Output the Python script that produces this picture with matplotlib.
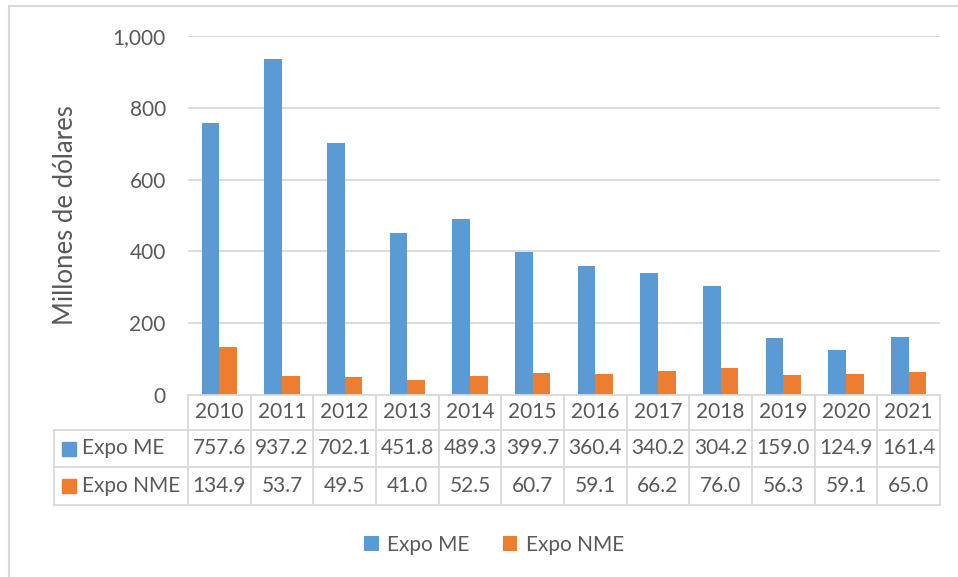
import numpy as np
import matplotlib
matplotlib.use('Agg')
from matplotlib import pyplot as plt
from matplotlib.lines import Line2D
from matplotlib.patches import Rectangle

## data ##
years = ['2010', '2011', '2012', '2013', '2014', '2015',
         '2016', '2017', '2018', '2019', '2020', '2021']
expo_me = [757.6, 937.2, 702.1, 451.8, 489.3, 399.7, 360.4, 340.2, 304.2, 159.0, 124.9, 161.4]
expo_nme = [134.9, 53.7, 49.5, 41.0, 52.5, 60.7, 59.1, 66.2, 76.0, 56.3, 59.1, 65.0]
series_names = ['Expo ME', 'Expo NME']
yticks = [0, 200, 400, 600, 800, 1000]

## style ##
blue = '#5b9bd5'
orange = '#ed7d31'
txt = '#595959'
grid = '#d9d9d9'
plt.rcParams['font.family'] = ['Lato', 'DejaVu Sans']
fs = 15

W, H = 958, 577
fig = plt.figure(figsize=(W/100, H/100), dpi=100)

def fx(px):
    return px / W
def fy(py):
    return 1 - py / H

# plot area in pixels
x0, x1 = 188, 940
y_top, y_bot = 36, 395
ax = fig.add_axes([fx(x0), fy(y_bot), fx(x1) - fx(x0), fy(y_top) - fy(y_bot)])

n = len(years)
xs = np.arange(n)
bw = 0.28
b1 = ax.bar(xs - bw/2, expo_me, bw, color=blue, zorder=3)
b2 = ax.bar(xs + bw/2, expo_nme, bw, color=orange, zorder=3)

ax.set_xlim(-0.5, n - 0.5)
ax.set_ylim(0, 1000)
ax.set_yticks(yticks)
ax.set_yticklabels([f'{v:,}' for v in yticks], color=txt, fontsize=fs)
ax.tick_params(axis='y', length=0, pad=16)
ax.set_xticks([])
ax.grid(axis='y', color=grid, linewidth=1.3, zorder=0)
for s in ax.spines.values():
    s.set_visible(False)
ax.set_ylabel('Millones de dólares', color=txt, fontsize=18.5, labelpad=25)

## data table under the axis ##
col_w = (x1 - x0) / n
rows_y = [395, 430, 467, 505]
left_tab = 54
lc = grid
lw = 1.3
def hline(py, a, b):
    fig.add_artist(Line2D([fx(a), fx(b)], [fy(py), fy(py)], color=lc, lw=lw))
def vline(px, a, b):
    fig.add_artist(Line2D([fx(px), fx(px)], [fy(a), fy(b)], color=lc, lw=lw))

hline(rows_y[0], x0, x1)
for py in rows_y[1:]:
    hline(py, left_tab, x1)
for i in range(n + 1):
    vline(x0 + i * col_w, rows_y[0], rows_y[3])
vline(left_tab, rows_y[1], rows_y[3])

for i, yr in enumerate(years):
    cx = x0 + (i + 0.5) * col_w
    fig.text(fx(cx), fy((rows_y[0] + rows_y[1]) / 2), yr, ha='center', va='center',
             color=txt, fontsize=fs)
    fig.text(fx(cx), fy((rows_y[1] + rows_y[2]) / 2), f'{expo_me[i]:.1f}', ha='center',
             va='center', color=txt, fontsize=fs)
    fig.text(fx(cx), fy((rows_y[2] + rows_y[3]) / 2), f'{expo_nme[i]:.1f}', ha='center',
             va='center', color=txt, fontsize=fs)

for k, (name, col) in enumerate(zip(series_names, [blue, orange])):
    cy = (rows_y[k + 1] + rows_y[k + 2]) / 2
    fig.add_artist(Rectangle((fx(62), fy(cy + 7)), fx(14), fy(0) - fy(14),
                             color=col, transform=fig.transFigure))
    fig.text(fx(82), fy(cy), name, ha='left', va='center', color=txt, fontsize=fs)

## legend ##
fig.legend([b1, b2], series_names, loc='center', bbox_to_anchor=(fx(494), fy(545)),
           ncol=2, frameon=False, fontsize=fs, labelcolor=txt, handlelength=0.7,
           handleheight=0.7, handletextpad=0.4, columnspacing=1.6)

## outer chart frame (cut off at right and bottom) ##
fig.add_artist(Line2D([fx(9), fx(W)], [fy(6), fy(6)], color=grid, lw=1.5))
fig.add_artist(Line2D([fx(9), fx(9)], [fy(6), fy(H)], color=grid, lw=1.5))

fig.savefig('out.png', dpi=100)
